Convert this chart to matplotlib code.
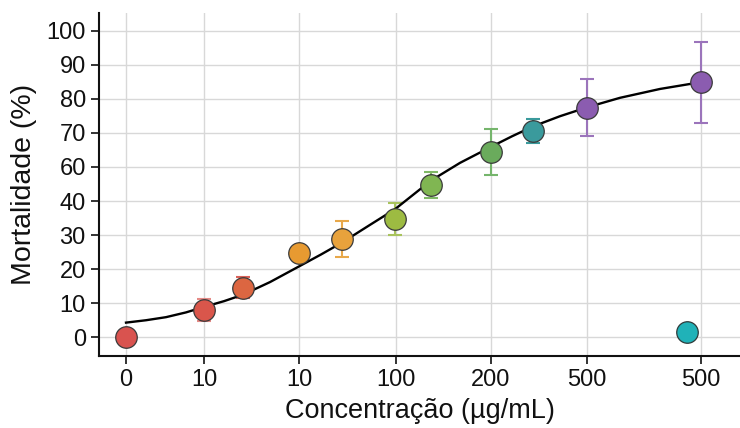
import matplotlib
matplotlib.use("Agg")
import matplotlib.pyplot as plt

plt.rcParams['font.family'] = ['Liberation Sans', 'DejaVu Sans']

# x tick positions (axis units) and their labels
tick_pos = [0, 7.8, 17.3, 27.0, 36.5, 46.1, 57.5]
tick_labels = ["0", "10", "10", "100", "200", "500", "500"]

# y tick positions and labels (as printed on the chart)
ytick_pos = [0, 10, 20, 30, 40, 50, 60, 70, 80, 90]
ytick_labels = ["0", "10", "20", "30", "40", "60", "70", "80", "90", "100"]

# data points
x_pts = [0, 7.8, 11.7, 17.3, 21.6, 26.9, 30.5, 36.5, 40.7, 46.1, 57.5]
y_pts = [0, 8.0, 14.6, 24.6, 28.8, 34.7, 44.7, 54.4, 60.5, 67.4, 74.9]
err = [0, 3.2, 3.1, 0, 5.3, 4.7, 3.7, 6.7, 3.5, 8.4, 11.9]
face_colors = ["#d9534f", "#d9564b", "#dc6641", "#e79a31", "#e8a23c",
               "#9dbb42", "#80b652", "#6aab5c", "#3a9a9c", "#8b5cb0", "#8b5cb0"]
err_colors = ["#d9534f", "#e58a86", "#d9625a", "#e8a84a", "#e8a84a",
              "#a8c35c", "#7fb865", "#75b56c", "#3a9a9c", "#9b74bb", "#9b74bb"]

# outlier point
x_out = [56.1]
y_out = [1.4]
out_color = "#20b2b8"

# fitted curve
curve_x = [0, 2.0, 4.0, 6.0, 7.8, 9.8, 11.7, 14.4, 17.3, 19.5, 21.6, 24.4,
           26.9, 28.7, 30.5, 33.4, 36.5, 38.6, 40.7, 43.4, 46.1, 49.4,
           53.4, 57.5]
curve_y = [4.3, 5.0, 5.9, 7.3, 8.9, 10.6, 12.5, 16.2, 20.8, 24.3, 27.8,
           33.0, 37.6, 41.8, 46.0, 51.2, 55.9, 59.0, 61.9, 64.9, 67.5,
           70.3, 72.9, 74.9]

fig = plt.figure(figsize=(7.4, 4.28), dpi=100)
ax = fig.add_axes([99/740, 72/428, 641/740, 343/428])

ax.set_xlim(-2.7, 61.4)
ax.set_ylim(-5.5, 95.2)

ax.set_xticks(tick_pos)
ax.set_xticklabels(tick_labels)
ax.set_yticks(ytick_pos)
ax.set_yticklabels(ytick_labels)

ax.grid(True, color="#d8d8d8", linewidth=1.0)
ax.set_axisbelow(True)

for s in ["top", "right"]:
    ax.spines[s].set_visible(False)
for s in ["left", "bottom"]:
    ax.spines[s].set_linewidth(1.5)
    ax.spines[s].set_color("#111111")

ax.tick_params(axis="both", direction="out", length=5.5, width=1.2,
               labelsize=17, colors="#111111", pad=4)

ax.plot(curve_x, curve_y, color="black", linewidth=1.7, zorder=4,
        solid_joinstyle="round")

for xi, yi, ei, fc, ec in zip(x_pts, y_pts, err, face_colors, err_colors):
    if ei > 0:
        ax.errorbar([xi], [yi], yerr=[ei], fmt="none", ecolor=ec,
                    elinewidth=1.5, capsize=5, capthick=1.5, zorder=3)
    ax.plot([xi], [yi], marker="o", markersize=15.5, markerfacecolor=fc,
            markeredgecolor="#3a3a3a", markeredgewidth=0.9, linestyle="none",
            zorder=5)

ax.plot(x_out, y_out, marker="o", markersize=15.5, markerfacecolor=out_color,
        markeredgecolor="#2f3a3a", markeredgewidth=0.9, linestyle="none", zorder=5)

ax.set_xlabel("Concentração (µg/mL)", fontsize=19.5, color="#111111", labelpad=5)
ax.set_ylabel("Mortalidade (%)", fontsize=20.5, color="#111111", labelpad=7)

fig.savefig("out.png", dpi=100)
